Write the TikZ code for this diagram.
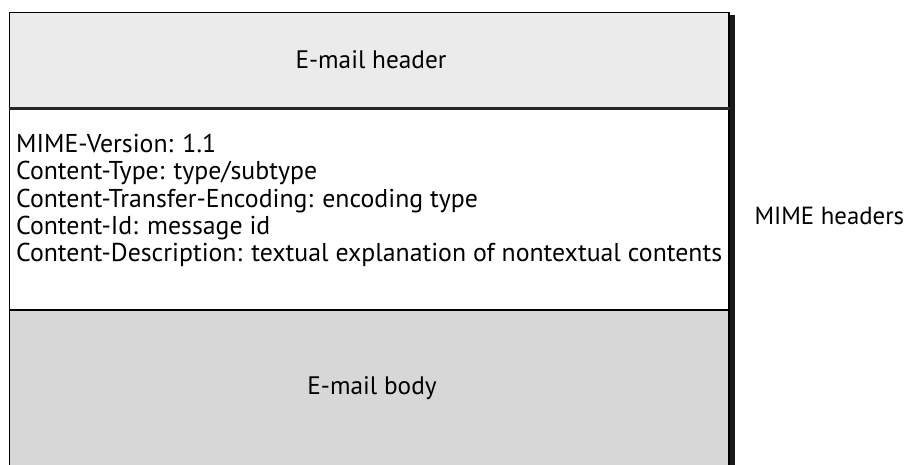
\documentclass[tikz,border=0pt]{standalone}
\usepackage{fontspec}
\setmainfont{PT Sans}
\usetikzlibrary{positioning}
\definecolor{headgray}{HTML}{EBEBEB}
\definecolor{bodygray}{HTML}{D7D7D7}

\begin{document}
\begin{tikzpicture}[
    x=1pt, y=-1pt,
    band/.style={rectangle, draw=black, line width=1.5pt, minimum width=719.5pt, inner sep=0pt, anchor=north west},
    label/.style={font=\fontsize{25.3}{27}\selectfont},
    fields/.style={align=left, inner sep=0pt, font=\fontsize{25.8}{27.3}\selectfont},
    shadow/.style={fill=black!90}
]
    \useasboundingbox (0,0) rectangle (909,465);
    % drop shadow on the right side
    \fill [shadow] (728,15) rectangle (735,470);

    \node [band, fill=headgray, minimum height=95pt] (header) at (8.5,12) {};
    \node [band, fill=white, minimum height=202pt] (mime) at (8.5,107) {};
    \node [band, fill=bodygray, minimum height=170pt] (body) at (8.5,309) {};
    \draw [line width=2.5pt, black!85] (header.south west) -- (header.south east);

    \node [label] (headtext) at (371,60) {E-mail header};
    \node [label] (bodytext) at (372,388) {E-mail body};
    \node [fields, anchor=north west, below right=27pt and 7.5pt of mime.north west] (list) {MIME-Version: 1.1\\
        Content-Type: type/subtype\\
        Content-Transfer-Encoding: encoding type\\
        Content-Id: message id\\
        Content-Description: textual explanation of nontextual contents};
    \node [label, font=\fontsize{24.8}{27}\selectfont, anchor=west] (mimelabel) at (751,216) {MIME headers};
\end{tikzpicture}
\end{document}
